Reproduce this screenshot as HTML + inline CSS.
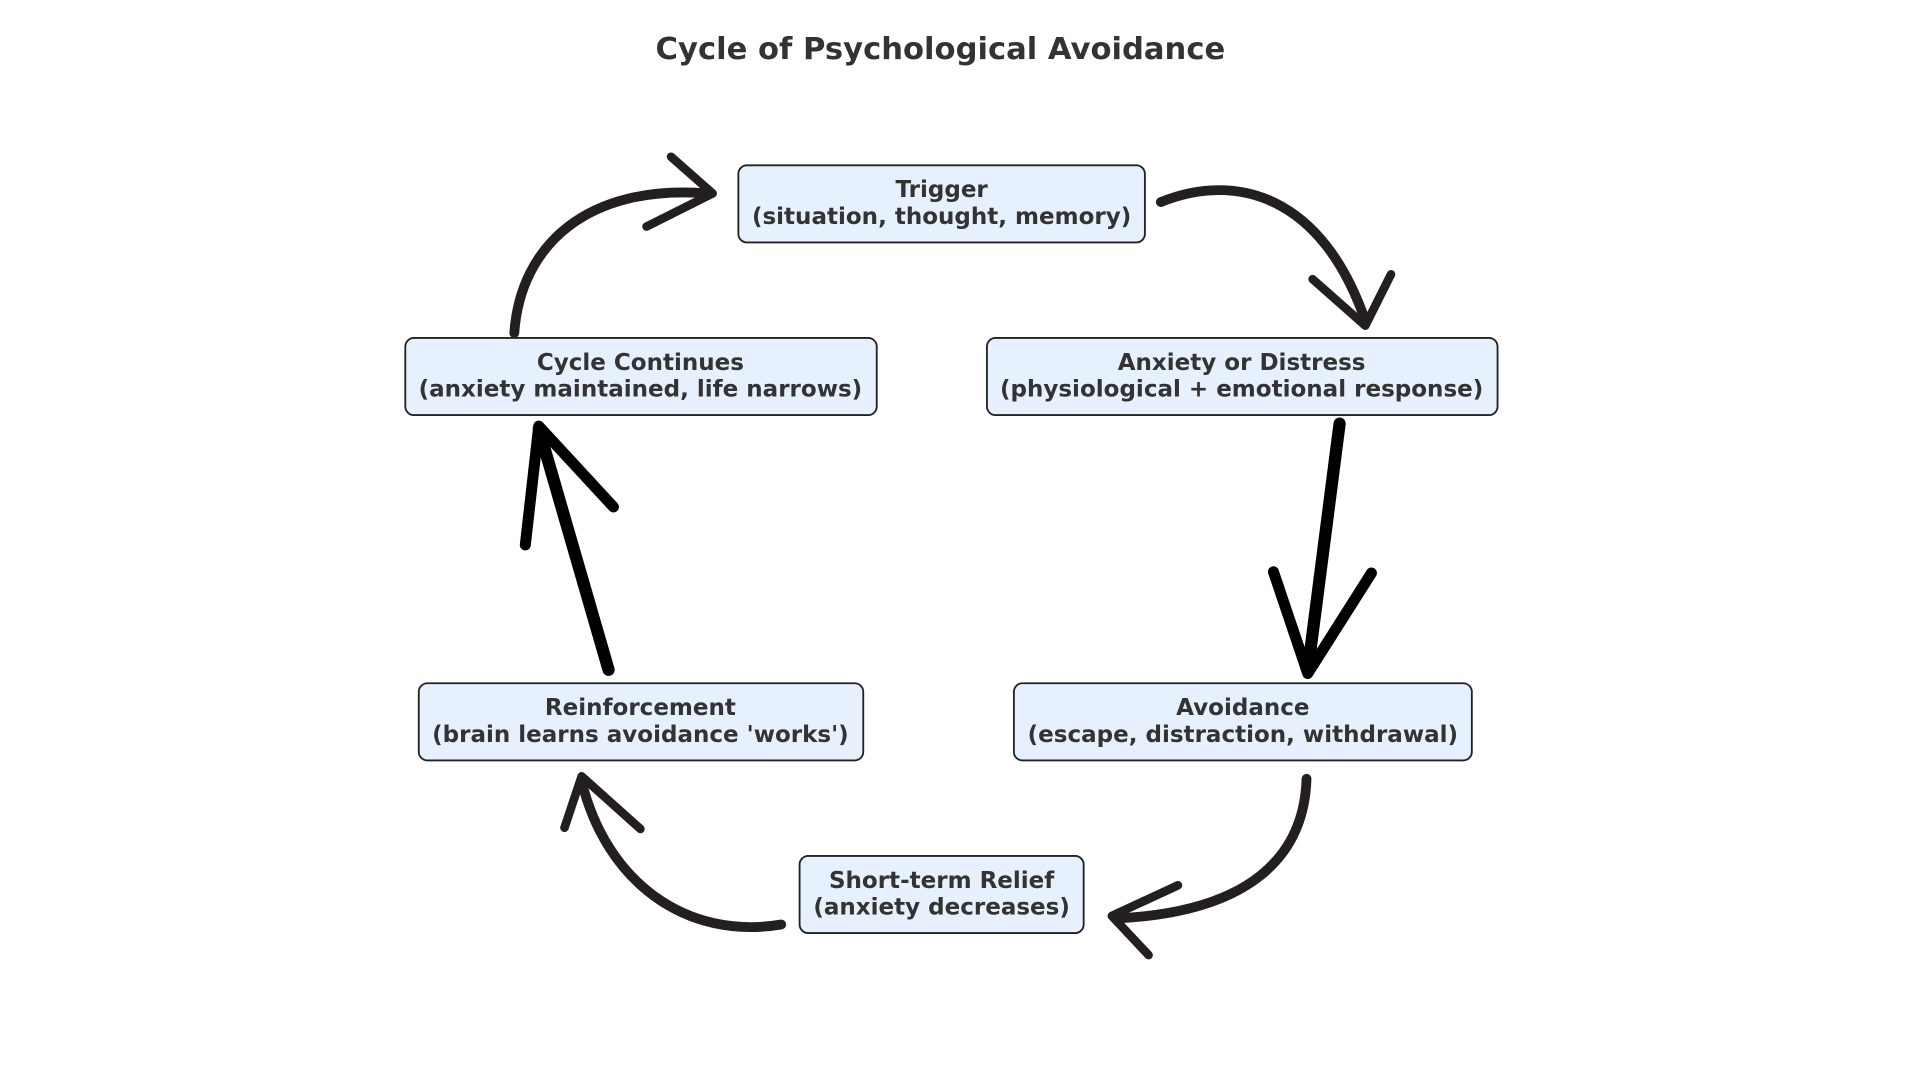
<!DOCTYPE html>
<html><head><meta charset="utf-8"><style>
html,body{margin:0;padding:0;background:#fff;}
svg{display:block;}
text{font-family:"DejaVu Sans","Liberation Sans",sans-serif;font-weight:bold;fill:#333;}
</style></head><body>
<svg width="1920" height="1080" viewBox="0 0 1568 882" xmlns="http://www.w3.org/2000/svg">
<text x="768" y="48" font-size="25" text-anchor="middle">Cycle of Psychological Avoidance</text>
<g fill="#e6f1fd" stroke="#222" stroke-width="1.5">
<rect x="603" y="135" width="332" height="63" rx="7"/>
<rect x="806" y="276" width="417" height="63" rx="7"/>
<rect x="331" y="276" width="385" height="63" rx="7"/>
<rect x="342" y="558" width="363" height="63" rx="7"/>
<rect x="828" y="558" width="374" height="63" rx="7"/>
<rect x="653" y="699" width="232" height="63" rx="7"/>
</g>
<g font-size="18.8" text-anchor="middle">
<text x="769" y="161">Trigger</text><text x="769" y="183">(situation, thought, memory)</text>
<text x="1014" y="302">Anxiety or Distress</text><text x="1014" y="324">(physiological + emotional response)</text>
<text x="523" y="302">Cycle Continues</text><text x="523" y="324">(anxiety maintained, life narrows)</text>
<text x="523" y="584">Reinforcement</text><text x="523" y="606">(brain learns avoidance 'works')</text>
<text x="1015" y="584">Avoidance</text><text x="1015" y="606">(escape, distraction, withdrawal)</text>
<text x="769" y="725">Short-term Relief</text><text x="769" y="747">(anxiety decreases)</text>
</g>
<g fill="none" stroke="#231f20" stroke-linecap="round" stroke-linejoin="round">
<path d="M948,165 C1010,140 1080,160 1115,262" stroke-width="8"/>
<path d="M1072,228 L1115,266 L1136,224" stroke-width="7"/>
<path d="M1067,636 C1065,700 1020,745 912,750" stroke-width="8"/>
<path d="M962,723 L908,748 L938,780" stroke-width="7"/>
<path d="M638,755 C560,768 495,720 475,638" stroke-width="8"/>
<path d="M461,676 L475,634 L523,677" stroke-width="7"/>
<path d="M420,272 C425,200 480,150 578,158" stroke-width="8"/>
<path d="M548,128 L582,158 L528,185" stroke-width="7"/>
</g>
<g fill="none" stroke="#000" stroke-linecap="round" stroke-linejoin="round">
<path d="M1094,346 L1068,548" stroke-width="10"/>
<path d="M1040,467 L1068,550 L1120,468" stroke-width="9"/>
<path d="M497,547 L440,350" stroke-width="10"/>
<path d="M429,445 L440,348 L501,414" stroke-width="9"/>
</g>
</svg>
</body></html>
